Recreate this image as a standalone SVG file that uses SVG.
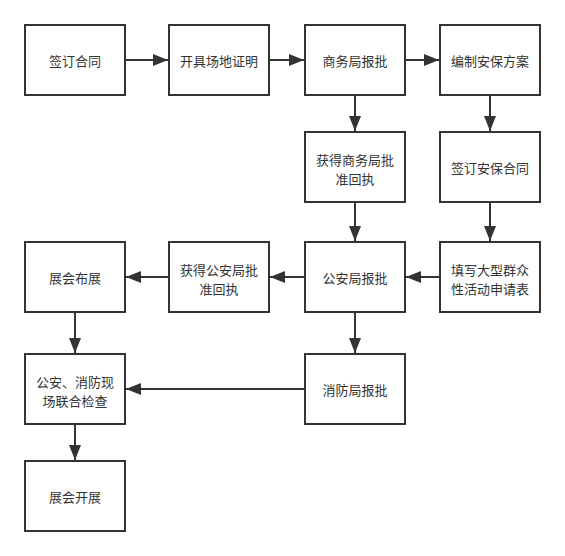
<svg xmlns="http://www.w3.org/2000/svg" width="565" height="556" viewBox="0 0 565 556">
<defs>
<marker id="ah" markerUnits="userSpaceOnUse" markerWidth="16" markerHeight="12" refX="15" refY="6" orient="auto">
<path d="M0,0 L15,6 L0,12 Z" fill="#333"/>
</marker>
<style>
.box{fill:#fff;stroke:#333;stroke-width:2}
.t{font-family:"Noto Sans CJK SC","Noto Sans",sans-serif;font-size:13px;fill:#333;text-anchor:middle;dominant-baseline:central}
.c{stroke:#333;stroke-width:2;fill:none;marker-end:url(#ah)}
</style>
</defs>
<rect width="565" height="556" fill="#fff"/>
<g id="connectors">
<path class="c" d="M125,60 H168"/>
<path class="c" d="M269,60 H304"/>
<path class="c" d="M405,60 H439"/>
<path class="c" d="M355,95 V131"/>
<path class="c" d="M490,95 V131"/>
<path class="c" d="M355,202 V241"/>
<path class="c" d="M490,202 V241"/>
<path class="c" d="M440,277 H406"/>
<path class="c" d="M305,277 H270"/>
<path class="c" d="M169,277 H126"/>
<path class="c" d="M355,312 V353"/>
<path class="c" d="M75,312 V353"/>
<path class="c" d="M305,389 H126"/>
<path class="c" d="M75,424 V460"/>
</g>
<g id="n1"><rect class="box" x="25" y="25" width="100" height="70"/><text class="t" x="75" y="60">签订合同</text></g>
<g id="n2"><rect class="box" x="169" y="25" width="100" height="70"/><text class="t" x="219" y="60">开具场地证明</text></g>
<g id="n3"><rect class="box" x="305" y="25" width="100" height="70"/><text class="t" x="355" y="60">商务局报批</text></g>
<g id="n4"><rect class="box" x="440" y="25" width="100" height="70"/><text class="t" x="490" y="60">编制安保方案</text></g>
<g id="n5"><rect class="box" x="305" y="132" width="100" height="70"/><text class="t"><tspan x="355" y="158.5">获得商务局批</tspan><tspan x="355" y="177.5">准回执</tspan></text></g>
<g id="n6"><rect class="box" x="440" y="132" width="100" height="70"/><text class="t" x="490" y="167">签订安保合同</text></g>
<g id="n7"><rect class="box" x="25" y="242" width="100" height="70"/><text class="t" x="75" y="277">展会布展</text></g>
<g id="n8"><rect class="box" x="169" y="242" width="100" height="70"/><text class="t"><tspan x="219" y="268.5">获得公安局批</tspan><tspan x="219" y="287.5">准回执</tspan></text></g>
<g id="n9"><rect class="box" x="305" y="242" width="100" height="70"/><text class="t" x="355" y="277">公安局报批</text></g>
<g id="n10"><rect class="box" x="440" y="242" width="100" height="70"/><text class="t"><tspan x="490" y="268.5">填写大型群众</tspan><tspan x="490" y="287.5">性活动申请表</tspan></text></g>
<g id="n11"><rect class="box" x="25" y="354" width="100" height="70"/><text class="t"><tspan x="75" y="380.5">公安、消防现</tspan><tspan x="75" y="399.5">场联合检查</tspan></text></g>
<g id="n12"><rect class="box" x="305" y="354" width="100" height="70"/><text class="t" x="355" y="389">消防局报批</text></g>
<g id="n13"><rect class="box" x="25" y="461" width="100" height="70"/><text class="t" x="75" y="496">展会开展</text></g>
</svg>
